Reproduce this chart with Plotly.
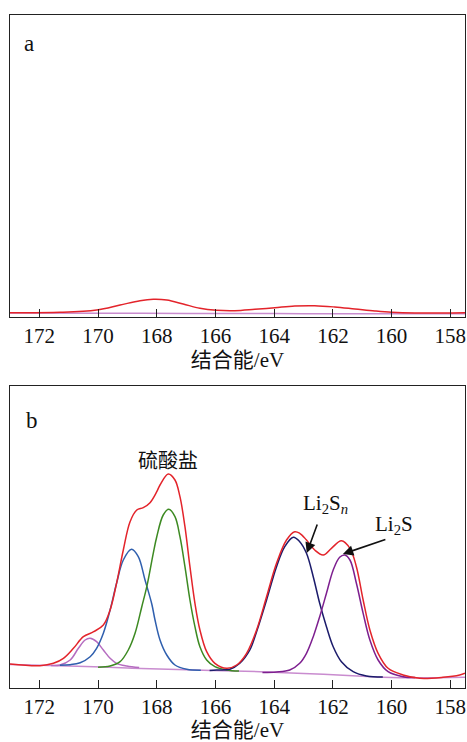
import plotly.graph_objects as go
from plotly.subplots import make_subplots

# ---------------- data (binding energy eV, intensity a.u.) ----------------
# Panel a
a_env_E = [173.0, 171.3, 170.05, 169.25, 168.57, 168.12, 167.66, 167.1, 166.53, 165.96,
           165.34, 164.66, 163.98, 163.3, 162.62, 161.94, 161.25, 160.57, 160.0, 159.21, 157.5]
a_env_I = [4.3, 4.7, 7.0, 12.0, 16.3, 17.7, 17.0, 13.0, 8.7, 6.7,
           6.3, 7.7, 9.3, 11.0, 11.3, 10.0, 8.0, 6.0, 4.7, 4.0, 4.3]
a_base_E = [173.0, 170.0, 167.0, 164.0, 161.0, 157.5]
a_base_I = [3.9, 3.8, 3.6, 3.4, 3.2, 3.2]

# Panel b: envelope
b_env_E = [173.0, 171.98, 171.52, 171.18, 170.84, 170.5, 170.15, 169.82, 169.59, 169.37,
           169.14, 168.91, 168.68, 168.46, 168.23, 168.0, 167.89, 167.61, 167.38, 167.21,
           167.04, 166.87, 166.7, 166.53, 166.3, 166.02, 165.62, 165.28, 164.94, 164.6,
           164.26, 163.92, 163.58, 163.3, 163.13, 162.9, 162.62, 162.33, 162.05, 161.71,
           161.42, 161.2, 160.97, 160.74, 160.46, 160.12, 159.61, 159.04, 158.25, 157.68, 157.5]
b_env_I = [24.0, 22.3, 24.7, 29.7, 39.7, 51.3, 56.3, 63.0, 78.0, 104.7,
           138.0, 166.3, 178.0, 180.3, 185.3, 196.3, 203.0, 214.0, 208.0, 191.3,
           161.3, 121.3, 84.7, 58.0, 36.3, 24.7, 19.7, 23.0, 34.7, 58.0,
           91.3, 124.7, 148.0, 156.3, 154.7, 148.0, 138.0, 133.0, 139.7, 147.3,
           139.7, 121.3, 88.0, 58.0, 34.7, 19.7, 13.0, 9.7, 10.7, 13.0, 14.7]

# Panel b: background
b_base_E = [173.0, 171.0, 169.0, 167.0, 165.0, 163.0, 161.0, 159.5, 157.5]
b_base_I = [23.5, 22.0, 20.0, 18.2, 16.8, 14.6, 11.8, 10.2, 10.8]

# Panel b: fitted components
pink_E = [171.6, 171.3, 170.95, 170.67, 170.44, 170.27, 170.05, 169.82, 169.59, 169.37, 169.02, 168.6]
pink_I = [22.6, 23.0, 28.0, 39.7, 48.0, 49.7, 46.3, 38.0, 29.7, 24.7, 22.0, 20.4]

blue_E = [171.3, 170.95, 170.61, 170.27, 170.05, 169.82, 169.59, 169.37, 169.14, 168.86,
          168.63, 168.4, 168.17, 168.06, 167.89, 167.66, 167.38, 166.98, 166.5]
blue_I = [22.8, 23.3, 25.3, 31.3, 39.7, 54.7, 78.0, 104.7, 128.0, 138.7,
          131.3, 108.0, 84.0, 68.0, 48.0, 33.0, 23.0, 18.7, 17.8]

green_E = [170.0, 169.59, 169.25, 168.97, 168.74, 168.51, 168.34, 168.12, 168.0, 167.78,
           167.59, 167.38, 167.21, 167.04, 166.87, 166.7, 166.53, 166.3, 166.02, 165.62, 165.2]
green_I = [20.8, 22.0, 26.3, 38.0, 54.7, 81.3, 101.3, 134.7, 151.3, 173.0,
           178.7, 171.3, 151.3, 121.3, 88.0, 61.3, 41.3, 28.0, 21.3, 18.0, 16.9]

navy_E = [166.2, 165.96, 165.51, 165.17, 164.83, 164.6, 164.26, 163.92, 163.64, 163.35,
          163.13, 162.9, 162.67, 162.45, 162.22, 161.99, 161.71, 161.31, 160.86, 160.3]
navy_I = [17.5, 18.0, 18.7, 24.7, 38.0, 56.3, 88.0, 121.3, 141.3, 150.7,
          146.3, 134.7, 111.3, 84.7, 61.3, 41.3, 26.3, 16.3, 12.0, 11.0]

purple_E = [164.4, 163.92, 163.47, 163.13, 162.9, 162.67, 162.45, 162.22, 161.99, 161.77,
            161.6, 161.42, 161.2, 160.97, 160.74, 160.46, 160.12, 159.61, 159.2]
purple_I = [15.6, 16.0, 18.0, 24.7, 34.7, 51.3, 71.3, 94.7, 118.0, 130.7,
            133.0, 128.0, 104.7, 74.7, 48.0, 28.0, 16.3, 11.3, 10.4]

x_ticks = [172, 170, 168, 166, 164, 162, 160, 158]
x_title = "结合能/eV"

# ---------------- figure ----------------
W, H = 467, 742
mt, mb, ml, mr = 15, 54, 10, 2
plot_h = H - mt - mb
dom_a = [(688 - 317) / plot_h, 1.0]
dom_b = [0.0, (688 - 386) / plot_h]

fig = make_subplots(rows=2, cols=1)

RED = "#e3242b"
BLUE = "#2f5fae"
GREEN = "#3d8a22"
NAVY = "#1b1b6b"
PURPLE = "#7d1f8f"
PINK = "#b56cc0"
BASE = "#c98ccf"

def line(x, y, color, row, width=1.5):
    fig.add_trace(go.Scatter(x=x, y=y, mode="lines",
                             line=dict(color=color, width=width, shape="spline", smoothing=1.0),
                             showlegend=False, hoverinfo="skip"), row=row, col=1)

# panel a
line(a_base_E, a_base_I, BASE, 1)
line(a_env_E, a_env_I, RED, 1)

# panel b
line(b_base_E, b_base_I, BASE, 2)
line(pink_E, pink_I, PINK, 2)
line(blue_E, blue_I, BLUE, 2)
line(green_E, green_I, GREEN, 2)
line(navy_E, navy_I, NAVY, 2)
line(purple_E, purple_I, PURPLE, 2)
line(b_env_E, b_env_I, RED, 2)

FONT = "Liberation Serif, Times New Roman, Noto Sans CJK SC, serif"
axis_common = dict(range=[173.0, 157.5], tickvals=x_ticks, ticktext=[str(t) for t in x_ticks],
                   ticks="inside", ticklen=8, tickwidth=1.2, tickcolor="#222",
                   showline=True, linecolor="#222", linewidth=1.3, mirror=True,
                   showgrid=False, zeroline=False,
                   tickfont=dict(family=FONT, size=21, color="#111"),
                   title=dict(text=x_title, font=dict(family=FONT, size=21, color="#111"), standoff=4))
yaxis_common = dict(range=[0, 302], showticklabels=False, ticks="", showgrid=False,
                    zeroline=False, showline=True, linecolor="#222", linewidth=1.3, mirror=True)

fig.update_layout(
    width=W, height=H, margin=dict(l=ml, r=mr, t=mt, b=mb),
    paper_bgcolor="white", plot_bgcolor="white",
    xaxis=dict(domain=[0, 1], **axis_common),
    xaxis2=dict(domain=[0, 1], **axis_common),
    yaxis=dict(domain=dom_a, **yaxis_common),
    yaxis2=dict(domain=dom_b, **yaxis_common),
)

ann_font = dict(family=FONT, size=21, color="#111")
annotations = [
    dict(text="a", xref="x domain", yref="y domain", x=0.027, y=0.952, showarrow=False,
         font=dict(family=FONT, size=23, color="#111")),
    dict(text="b", xref="x2 domain", yref="y2 domain", x=0.03, y=0.934, showarrow=False,
         font=dict(family=FONT, size=23, color="#111")),
    dict(text="硫酸盐", xref="x2", yref="y2", x=167.62, y=229, showarrow=False,
         font=dict(family="Noto Sans CJK SC", size=20, color="#111")),
    dict(text="Li<sub>2</sub>S<sub><i>n</i></sub>", xref="x2", yref="y2", x=162.24, y=184,
         showarrow=False, font=ann_font),
    dict(text="Li<sub>2</sub>S", xref="x2", yref="y2", x=159.93, y=163,
         showarrow=False, font=ann_font),
    dict(text="", xref="x2", yref="y2", x=162.89, y=135, ax=11, ay=-30,
         showarrow=True, arrowhead=2, arrowsize=1.3, arrowwidth=1.6, arrowcolor="#111"),
    dict(text="", xref="x2", yref="y2", x=161.66, y=134, ax=44, ay=-15,
         showarrow=True, arrowhead=2, arrowsize=1.3, arrowwidth=1.6, arrowcolor="#111"),
]
fig.update_layout(annotations=annotations)

fig.write_html("out.html")
